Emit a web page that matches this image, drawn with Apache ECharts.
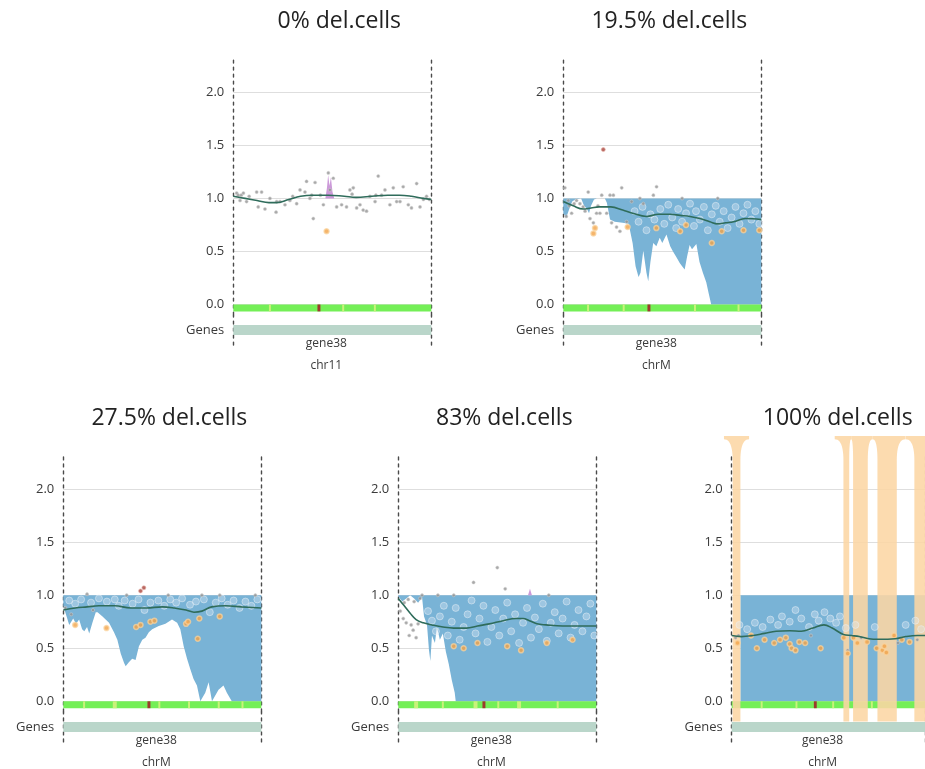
<!DOCTYPE html>
<html>
<head>
<meta charset="utf-8">
<script src="https://cdn.jsdelivr.net/npm/echarts@6/dist/echarts.min.js"></script>
<style>
  html, body { margin: 0; padding: 0; background: #ffffff; }
  #chart { width: 925px; height: 769px; }
</style>
</head>
<body>
<div id="chart"></div>
<script>
// ---------------- data ----------------
const titles = ['0% del.cells', '19.5% del.cells', '27.5% del.cells', '83% del.cells', '100% del.cells'];
const chroms = ['chr11', 'chrM', 'chrM', 'chrM', 'chrM'];
const geneNames = ['gene38'];
const genePositions = [47];
const yTickValues = [0, 0.5, 1.0, 1.5, 2.0];
const rowLabel = 'Genes';

// panel 1 : 0% del.cells
const p1Trend = [[0,1.02],[6,1.0],[12,0.98],[18,0.96],[22,0.96],[28,0.99],[34,1.02],[40,1.03],[48,1.03],[56,1.02],[62,1.01],[70,1.02],[78,1.03],[84,1.03],[90,1.02],[96,1.0],[100,0.99]];
const p1Dots = [[1.7,1.05],[2.5,1.03],[3.4,0.98],[4,1.03],[5.1,1.05],[6.7,0.97],[8,1.02],[11.8,1.06],[14.3,1.06],[12.6,0.92],[16.0,0.90],[18.5,1.0],[21.9,0.97],[21.6,0.87],[23.6,0.97],[26.1,0.94],[28.6,0.98],[30,1.02],[32.0,0.95],[33.7,1.08],[36.2,1.06],[37.0,1.16],[39.6,1.03],[38.7,1.0],[41.3,1.15],[40.4,0.81],[44,1.03],[45.5,0.94],[48.0,1.24],[50.5,1.19],[48.8,1.08],[52.2,0.92],[54.7,0.94],[57.2,0.92],[58.9,1.08],[60,1.04],[60.6,1.10],[62.3,0.91],[64.0,0.94],[65.6,0.89],[67.3,0.88],[69.0,1.02],[71.6,0.97],[72,1.03],[73.2,1.21],[74.9,1.03],[76.6,1.08],[79.1,0.94],[80.8,1.10],[82.5,0.97],[84.2,0.97],[85.8,1.11],[88.4,0.94],[90.0,0.91],[92.6,1.14],[94.3,0.92],[96.0,0.99],[97.6,1.02],[99.0,0.99]];
const p1Orange = [[47.1,0.69]];
const p1Spike = [[46.5,1.0],[47.3,1.10],[47.9,1.22],[48.6,1.12],[49.3,1.20],[50.1,1.06],[51,1.0]];
const p1Cells = [[42.5,44,2],[18,19,1],[55,56,1],[71,72,1]];

// panel 2 : 19.5% del.cells
const p2Trend = [[0,0.97],[5,0.93],[10,0.90],[14,0.91],[18,0.92],[24,0.92],[30,0.89],[35,0.86],[42,0.83],[48,0.85],[54,0.85],[59,0.84],[64,0.83],[69,0.81],[74,0.78],[78,0.76],[82,0.77],[86,0.78],[92,0.81],[100,0.80]];
const p2Lower = [[0,0.86],[1.5,0.82],[3,0.90],[4.5,0.97],[6,0.99],[9,1.0],[10.5,0.93],[12,0.90],[13,0.86],[14,0.93],[15.5,0.99],[17,1.0],[21,1.0],[22,0.96],[23.6,0.80],[26,0.78],[30,0.77],[33,0.76],[35,0.58],[36.5,0.36],[38,0.26],[39,0.30],[40.4,0.51],[42,0.30],[42.9,0.22],[44,0.40],[45.4,0.58],[47,0.55],[48.7,0.63],[50,0.58],[52.1,0.66],[54,0.55],[55.4,0.50],[57,0.45],[58.8,0.39],[60,0.36],[61.3,0.33],[62.5,0.45],[63.8,0.56],[65,0.52],[67.2,0.57],[68.8,0.40],[70.5,0.30],[72.2,0.21],[73.5,0.10],[74.7,0],[100,0]];
const p2Dots = [[0.8,1.10],[1.5,0.83],[2.5,0.98],[3,0.93],[4.2,0.86],[5.5,0.95],[6.7,0.98],[8.4,0.95],[10,0.92],[11,0.88],[12.6,1.06],[13.5,0.81],[15.2,0.77],[16.8,0.86],[17.5,0.93],[18.5,0.86],[19.4,1.03],[21.9,0.86],[23.6,1.03],[25.3,1.03],[24.4,0.77],[26.9,0.73],[28.6,0.69],[29.5,1.10],[32.0,0.78],[34.5,0.97],[38.7,1.0],[40.4,0.95],[45.5,1.03],[47.1,1.11],[60,1.0],[78,1.0]];
const p2Rings = [[36,0.88],[38,0.78],[40,0.92],[42,0.70],[44,0.85],[46,0.80],[49,0.90],[51,0.76],[53,0.94],[55,0.82],[57,0.72],[58,0.90],[60,0.78],[62,0.86],[64,0.95],[66,0.74],[67,0.88],[69,0.80],[71,0.92],[73,0.70],[75,0.85],[77,0.93],[79,0.78],[81,0.88],[83,0.72],[85,0.82],[87,0.92],[89,0.76],[91,0.86],[93,0.94],[95,0.80],[97,0.88],[99,0.76]];
const p2Orange = [[15.2,0.67],[16.0,0.72],[32.5,0.73],[47,0.72],[59,0.69],[62,0.75],[75,0.58],[80,0.69],[91,0.70],[99,0.70]];
const p2Red = [[20.2,1.46]];
const p2Cells = [[42.5,44,2],[12,13,1],[30,31,1],[66,67,1],[88,89,1]];

// panel 3 : 27.5% del.cells
const p3Trend = [[0,0.86],[6,0.88],[12,0.89],[18,0.90],[26,0.90],[34,0.88],[42,0.88],[50,0.89],[56,0.88],[62,0.86],[66,0.84],[70,0.85],[75,0.89],[82,0.90],[90,0.89],[100,0.88]];
const p3Lower = [[0,0.90],[1,0.84],[3,0.72],[5,0.78],[6.4,0.73],[8,0.77],[9.5,0.68],[10.6,0.66],[12,0.70],[13.1,0.64],[14.7,0.74],[16.4,0.84],[17.3,0.84],[19.8,0.80],[23.1,0.74],[25.6,0.65],[27.3,0.58],[29,0.45],[30.7,0.36],[31.5,0.33],[33.2,0.37],[34.8,0.40],[36.5,0.39],[38.2,0.52],[39.9,0.58],[41.5,0.60],[43.2,0.65],[44.9,0.68],[48.2,0.71],[51.6,0.73],[54.9,0.77],[57.5,0.74],[59.1,0.68],[60.8,0.52],[62.5,0.40],[64.2,0.30],[65.8,0.21],[67.5,0.15],[69.2,0],[71.7,0.08],[73.4,0.18],[75.1,0],[78.4,0.11],[80.9,0.15],[82.6,0.08],[85.1,0],[100,0]];
const p3Dots = [[12,1.01],[32,1.0],[53,1.0],[70,1.0],[79,1.0],[97,1.0],[1,0.88],[4,0.82],[15,0.86]];
const p3Rings = [[3,0.95],[6,0.92],[9,0.96],[14,0.93],[18,0.97],[22,0.94],[26,0.96],[28,0.90],[31,0.95],[35,0.92],[38,0.96],[41,0.86],[44,0.93],[48,0.95],[51,0.90],[54,0.96],[57,0.93],[60,0.97],[64,0.91],[67,0.94],[71,0.96],[74,0.84],[77,0.93],[80,0.97],[83,0.91],[86,0.95],[89,0.88],[92,0.94],[95,0.90],[98,0.96]];
const p3Orange = [[6,0.72],[21.8,0.69],[36.8,0.70],[39,0.72],[44,0.75],[46,0.76],[62,0.73],[63,0.75],[67.9,0.59],[68.7,0.78],[79,0.80]];
const p3Red = [[39,1.04],[40.7,1.07]];
const p3Cells = [[42.5,44,2],[10,11,1],[25,27,1],[48,49,1],[63,64,1],[78,79,1],[90,91,1]];

// panel 4 : 83% del.cells
const p4Trend = [[0,0.97],[3,0.90],[6,0.83],[9,0.77],[12.6,0.74],[17,0.72],[22.6,0.70],[28,0.69],[34.4,0.69],[40,0.71],[46,0.73],[53,0.76],[59.5,0.78],[63,0.78],[66.2,0.76],[70,0.73],[74.6,0.72],[83,0.71],[90,0.71],[100,0.71]];
const p4Lower = [[0,0.99],[2,0.94],[4,0.97],[6,1.0],[8,0.97],[10,0.93],[12,0.98],[13,0.8],[14.5,0.72],[15.5,0.48],[16.2,0.38],[17,0.62],[18.5,0.55],[19.5,0.7],[21,0.58],[22.5,0.64],[24,0.47],[25.5,0.35],[27,0.2],[28.5,0.08],[29,0],[100,0]];
const p4Dots = [[1,0.85],[2.5,0.78],[4,0.74],[5.5,0.62],[6.5,0.72],[7.5,0.67],[9,0.60],[10,0.73],[3,0.93],[5,0.96],[8,0.94],[11,0.97],[12,1.0],[20,1.0],[28,1.0],[38,1.12],[50,1.26],[54,1.06],[76,1.0]];
const p4Rings = [[15,0.85],[17,0.76],[19,0.66],[21,0.80],[23,0.90],[25,0.62],[27,0.75],[29,0.88],[31,0.58],[33,0.70],[35,0.82],[37,0.95],[39,0.64],[41,0.78],[43,0.90],[45,0.56],[47,0.70],[49,0.86],[51,0.62],[53,0.78],[55,0.93],[57,0.66],[59,0.82],[61,0.55],[63,0.74],[65,0.88],[67,0.60],[69,0.79],[71,0.68],[73,0.92],[75,0.57],[77,0.74],[79,0.84],[81,0.64],[83,0.78],[85,0.94],[87,0.60],[89,0.72],[91,0.86],[93,0.66],[95,0.80],[97,0.92],[99,0.62]];
const p4Orange = [[28,0.52],[33,0.50],[40,0.55],[55,0.52],[62,0.48],[75,0.55],[88,0.58]];
const p4Spike = [[65.5,1.0],[66.5,1.06],[67.5,1.0]];
const p4Cells = [[42.5,44,2],[8,10,1],[22,23,1],[38,40,1],[50,51,1],[60,62,1],[80,81,1]];

// panel 5 : 100% del.cells
const p5Trend = [[0,0.62],[5,0.61],[11,0.62],[17,0.64],[23,0.66],[30,0.665],[36,0.66],[42,0.69],[47.7,0.72],[52,0.69],[57.8,0.63],[62,0.62],[66,0.61],[71,0.59],[76,0.585],[84.6,0.59],[90,0.61],[96,0.62],[100,0.62]];
const p5Lower = [[4.5,0],[100,0]];
const p5Dots = [[2,0.60],[3.5,0.62],[41,0.62],[60,0.48],[67,0.60],[86,0.55],[96,0.58]];
const p5Rings = [[4,0.72],[8,0.68],[12,0.74],[16,0.70],[20,0.77],[24,0.72],[26,0.80],[30,0.75],[33,0.86],[36,0.78],[40,0.70],[43,0.82],[45,0.76],[48,0.84],[51,0.78],[54,0.74],[56,0.80],[59,0.69],[64,0.72],[74,0.70],[90,0.72],[95,0.76],[98,0.68]];
const p5Orange = [[3,0.55],[10,0.62],[13,0.50],[17,0.58],[22,0.55],[25,0.58],[28,0.60],[30,0.54],[31,0.50],[33,0.48],[35,0.56],[38,0.55],[46,0.50],[58,0.60],[60,0.45],[63,0.60],[65,0.55],[70,0.56],[75,0.50],[78,0.48],[79,0.52],[80,0.46],[84,0.62],[88,0.58],[92,0.56]];
const p5Bands = [[0.5,4.5],[57.8,60.8],[62.8,70.4],[75.4,85.4],[94.5,101]];
const p5Cells = [[42.5,44,2],[15,16,1],[33,34,1],[52,53,1],[72,73,1]];

// ---------------- layout & style ----------------
const PX_PER_UNIT = 106.1;
const Y_MIN = -0.1, Y_MAX = 2.32;
const PANEL_W = 198;
const GENES_H = 30;
const layout = [
  { left: 233.3, zero: 304.5 },
  { left: 563.3, zero: 304.5 },
  { left: 63.3,  zero: 701.3 },
  { left: 398.3, zero: 701.3 },
  { left: 731.7, zero: 701.3 }
];
const panels = [
  { trend: p1Trend, dots: p1Dots, rings: [], orange: p1Orange, lower: null, spike: p1Spike, red: [], cells: p1Cells, bands: [] },
  { trend: p2Trend, dots: p2Dots, rings: p2Rings, orange: p2Orange, lower: p2Lower, spike: null, red: p2Red, cells: p2Cells, bands: [] },
  { trend: p3Trend, dots: p3Dots, rings: p3Rings, orange: p3Orange, lower: p3Lower, spike: null, red: p3Red, cells: p3Cells, bands: [] },
  { trend: p4Trend, dots: p4Dots, rings: p4Rings, orange: p4Orange, lower: p4Lower, spike: p4Spike, red: [], cells: p4Cells, bands: [] },
  { trend: p5Trend, dots: p5Dots, rings: p5Rings, orange: p5Orange, lower: p5Lower, spike: null, red: [], cells: p5Cells, bands: p5Bands }
];

const FONT = '"Open Sans", "Noto Sans", sans-serif';
const BLUE = '#79b3d6';
const PURPLE = '#cc9ad9';
const CELL_COLORS = ['#74ef57', '#c9f27a', '#9b3b2c'];
const BAND_COLOR = 'rgba(252,214,164,0.88)';
const DASH = { color: '#4a4a4a', width: 1.4, type: [3, 4] };
const LABEL_COLOR = '#3a3a3a';

// vertical extent of the highlighted columns and their flared tops
const BAND_BOTTOM = -0.19, BAND_SHOULDER = 2.27, BAND_FLARE = 2.47, BAND_TOP = 2.5, MAX_FLARE = 4.5;

// one data item per filled region: [count, x0, low0, high0, x1, low1, high1, ...]
function regionItem(points, lowFn, highFn) {
  const item = [points.length];
  points.forEach(d => item.push(d[0], lowFn(d), highFn(d)));
  return item;
}

function makeRegionRenderer(color) {
  return function (params, api) {
    const n = api.value(0);
    const upper = [], lower = [];
    for (let k = 0; k < n; k++) {
      const x = api.value(1 + 3 * k);
      lower.push(api.coord([x, api.value(2 + 3 * k)]));
      upper.push(api.coord([x, api.value(3 + 3 * k)]));
    }
    return {
      type: 'polygon',
      shape: { points: lower.concat(upper.reverse()) },
      style: { fill: color }
    };
  };
}

function cellRenderer(params, api) {
  const a = api.coord([api.value(0), 0]);
  const b = api.coord([api.value(1), -0.065]);
  return {
    type: 'rect',
    shape: { x: a[0], y: a[1], width: b[0] - a[0], height: b[1] - a[1] },
    style: { fill: CELL_COLORS[api.value(2)] }
  };
}

function quad(p0, c, p1, out) {
  for (let i = 1; i <= 12; i++) {
    const t = i / 12, u = 1 - t;
    out.push([u * u * p0[0] + 2 * u * t * c[0] + t * t * p1[0],
              u * u * p0[1] + 2 * u * t * c[1] + t * t * p1[1]]);
  }
}

function bandRenderer(params, api) {
  const x0 = api.value(0), x1 = api.value(1), fl = api.value(2), fr = api.value(3);
  const P = (x, y) => api.coord([x, y]);
  const pts = [P(x0, BAND_BOTTOM), P(x0, BAND_SHOULDER)];
  quad(P(x0, BAND_SHOULDER), P(x0, BAND_FLARE), P(x0 - fl, BAND_FLARE), pts);
  pts.push(P(x0 - fl, BAND_TOP), P(x1 + fr, BAND_TOP));
  const r = [];
  quad(P(x1, BAND_SHOULDER), P(x1, BAND_FLARE), P(x1 + fr, BAND_FLARE), r);
  r.reverse();
  pts.push(...r, P(x1, BAND_SHOULDER), P(x1, BAND_BOTTOM));
  return { type: 'polygon', shape: { points: pts }, style: { fill: BAND_COLOR } };
}

function withFlares(bands) {
  return bands.map((b, i) => {
    const prev = bands[i - 1], next = bands[i + 1];
    const fl = prev ? Math.min(MAX_FLARE, (b[0] - prev[1]) / 2) : MAX_FLARE;
    const fr = next ? Math.min(MAX_FLARE, (next[0] - b[1]) / 2) : MAX_FLARE;
    return [b[0], b[1], fl, fr];
  });
}

const grid = [], xAxis = [], yAxis = [], series = [], graphic = [];

panels.forEach((p, i) => {
  const L = layout[i];
  const mainTop = L.zero - Y_MAX * PX_PER_UNIT;
  const mainH = (Y_MAX - Y_MIN) * PX_PER_UNIT;
  const gi = grid.length;
  grid.push({ left: L.left, top: mainTop, width: PANEL_W, height: mainH });
  grid.push({ left: L.left, top: mainTop + mainH, width: PANEL_W, height: GENES_H });

  const xi = xAxis.length, yi = yAxis.length;
  xAxis.push({ gridIndex: gi, type: 'value', min: 0, max: 100, show: false });
  xAxis.push({
    gridIndex: gi + 1, type: 'value', min: 0, max: 100, offset: -10,
    axisLine: { show: false }, axisTick: { show: false }, splitLine: { show: false },
    axisLabel: {
      customValues: genePositions, margin: 1,
      formatter: v => '{g|' + geneNames[genePositions.indexOf(v)] + '}\n{c|' + chroms[i] + '}',
      rich: {
        g: { fontFamily: FONT, fontSize: 12, color: LABEL_COLOR, lineHeight: 15 },
        c: { fontFamily: FONT, fontSize: 12, color: LABEL_COLOR, lineHeight: 29 }
      }
    }
  });

  yAxis.push({
    gridIndex: gi, type: 'value', min: Y_MIN, max: Y_MAX, position: 'left',
    axisLine: { show: true, lineStyle: DASH },
    axisTick: { show: false, customValues: yTickValues },
    axisLabel: { customValues: yTickValues, formatter: v => v.toFixed(1), fontFamily: FONT, fontSize: 13, color: LABEL_COLOR, margin: 9 },
    splitLine: { show: true, lineStyle: { color: '#dedede', width: 1 } }
  });
  yAxis.push({
    gridIndex: gi, type: 'value', min: Y_MIN, max: Y_MAX, position: 'right',
    axisLine: { show: true, lineStyle: DASH }, axisTick: { show: false }, axisLabel: { show: false }, splitLine: { show: false }
  });
  yAxis.push({
    gridIndex: gi + 1, type: 'category', data: [rowLabel], position: 'left',
    axisLine: { show: true, lineStyle: DASH }, axisTick: { show: false },
    axisLabel: { fontFamily: FONT, fontSize: 13, color: LABEL_COLOR, margin: 9 }
  });
  yAxis.push({
    gridIndex: gi + 1, type: 'category', data: [rowLabel], position: 'right',
    axisLine: { show: true, lineStyle: DASH }, axisTick: { show: false }, axisLabel: { show: false }
  });

  const ax = { xAxisIndex: xi, yAxisIndex: yi, silent: true, animation: false };

  // blue region between the lower profile and 1.0
  if (p.lower) {
    series.push(Object.assign({}, ax, {
      type: 'custom', z: 1, renderItem: makeRegionRenderer(BLUE),
      data: [regionItem(p.lower, d => d[1], () => 1.0)]
    }));
  }

  // purple spike above 1.0
  if (p.spike) {
    series.push(Object.assign({}, ax, {
      type: 'custom', z: 3, renderItem: makeRegionRenderer(PURPLE),
      data: [regionItem(p.spike, () => 1.0, d => d[1])]
    }));
  }

  // green track just below zero with marked cells
  series.push(Object.assign({}, ax, {
    type: 'custom', z: 3, renderItem: cellRenderer,
    data: [[0, 100, 0]].concat(p.cells)
  }));

  // highlighted columns
  if (p.bands.length) {
    series.push(Object.assign({}, ax, {
      type: 'custom', z: 4, clip: false, renderItem: bandRenderer,
      data: withFlares(p.bands)
    }));
  }

  series.push(Object.assign({}, ax, {
    type: 'scatter', z: 5, symbolSize: 7, data: p.rings,
    itemStyle: { color: 'rgba(222,234,243,0.45)', borderColor: 'rgba(236,243,248,0.6)', borderWidth: 1 }
  }));
  series.push(Object.assign({}, ax, {
    type: 'scatter', z: 6, symbolSize: 3.2, data: p.dots,
    itemStyle: { color: '#949494', borderColor: 'rgba(210,210,210,0.6)', borderWidth: 1 }
  }));
  series.push(Object.assign({}, ax, {
    type: 'scatter', z: 6, symbolSize: 5, data: p.orange,
    itemStyle: { color: '#f2a247', borderColor: 'rgba(250,212,160,0.9)', borderWidth: 1.5 }
  }));
  series.push(Object.assign({}, ax, {
    type: 'scatter', z: 6, symbolSize: 4, data: p.red,
    itemStyle: { color: '#a8443c', borderColor: 'rgba(230,180,170,0.8)', borderWidth: 1 }
  }));
  series.push(Object.assign({}, ax, {
    type: 'line', z: 7, smooth: 0.4, symbol: 'none', data: p.trend,
    lineStyle: { color: '#2f6c5b', width: 1.6 }
  }));

  // gene track
  series.push({
    type: 'bar', xAxisIndex: xi + 1, yAxisIndex: yi + 2, silent: true, animation: false,
    barWidth: 10, data: [100], itemStyle: { color: '#bad6ca' }
  });

  graphic.push({
    type: 'text', x: L.left + 106, y: L.zero - 283, silent: true,
    style: { text: titles[i], fontFamily: FONT, fontSize: 23, fill: '#222', align: 'center', verticalAlign: 'middle' }
  });
});

const chart = echarts.init(document.getElementById('chart'), null, { renderer: 'canvas' });
chart.setOption({
  animation: false,
  backgroundColor: '#ffffff',
  grid, xAxis, yAxis, series, graphic
});
</script>
</body>
</html>
